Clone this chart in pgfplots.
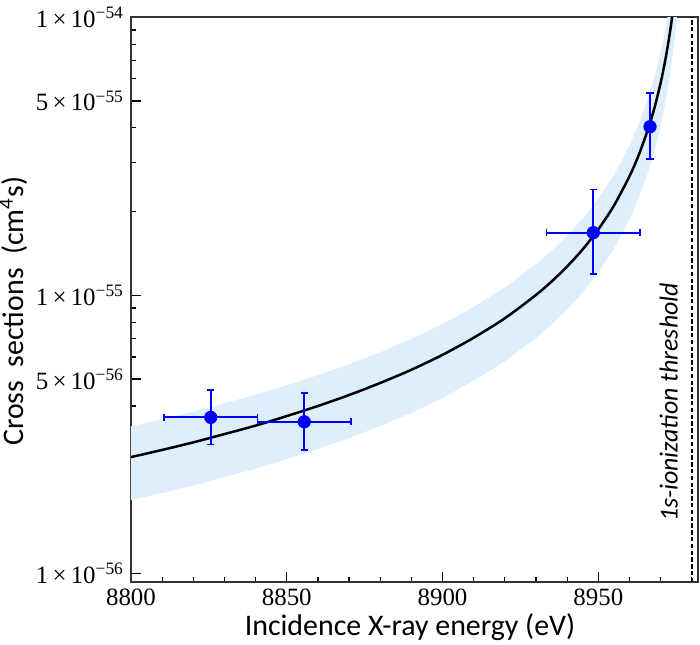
\documentclass[border=0pt]{standalone}
\usepackage{fontspec}
\setmainfont{Carlito}
\newfontfamily\tnr{Liberation Serif}
\usepackage{pgfplots}
\pgfplotsset{compat=1.18}
\usepackage{pgfplotstable}

\definecolor{band}{RGB}{222,238,252}
\definecolor{pblue}{RGB}{0,0,255}

\pgfplotstableread{
x y xm xp ym yp
8825.6 3.64e-56 15 15 0.73e-56 0.92e-56
8855.6 3.51e-56 15 15 0.73e-56 0.93e-56
8948.4 1.68e-55 15 15 0.49e-55 0.72e-55
8966.6 4.04e-55 0 0 0.95e-55 1.29e-55
}\pts

\newcommand{\tl}[2]{#1\,×\,10\textsuperscript{−#2}}

\begin{document}
\begin{tikzpicture}
\useasboundingbox (-65.5bp,-31.5bp) rectangle (284.5bp,291bp);
\begin{axis}[
  at={(0,0)}, anchor=south west,
  scale only axis, width=283.5bp, height=282.5bp,
  ymode=log,
  xmin=8800, xmax=8982,
  ymin=9.3e-57, ymax=1e-54,
  xtick={8800,8850,8900,8950},
  xticklabels={8800,8850,8900,8950},
  minor xtick={8810,8820,8830,8840,8860,8870,8880,8890,8910,8920,8930,8940,8960,8970,8980},
  ytick={1e-56,5e-56,1e-55,5e-55,1e-54},
  yticklabels={\tl{1}{56},\tl{5}{56},\tl{1}{55},\tl{5}{55},\tl{1}{54}},
  minor ytick={2e-56,3e-56,4e-56,6e-56,7e-56,8e-56,9e-56,2e-55,3e-55,4e-55,6e-55,7e-55,8e-55,9e-55},
  xtick pos=left, ytick pos=left,
  tick align=inside,
  major tick length=5bp, minor tick length=2.5bp,
  tick style={line width=0.6bp, black},
  axis line style={line width=0.8bp, black!80},
  xticklabel style={font=\tnr\fontsize{12.5}{12.5}\selectfont},
  yticklabel style={font=\tnr\fontsize{12.5}{12.5}\selectfont},
  xlabel={Incidence X-ray energy (eV)},
  ylabel={Cross\hspace{0.45em}sections\hspace{0.45em}(cm\textsuperscript{4}s)},
  every axis x label/.style={at={(axis description cs:0.492,-0.0938)}, anchor=base, font=\fontsize{15}{15}\selectfont},
  every axis y label/.style={at={(axis description cs:-0.190,0.4796)}, anchor=base, rotate=90, font=\fontsize{15}{15}\selectfont},
]
% uncertainty band
\addplot[fill=band, draw=none] coordinates {
(8800,3.38e-56) (8810,3.59e-56) (8820,3.82e-56) (8830,4.09e-56) (8840,4.39e-56)
(8850,4.75e-56) (8860,5.16e-56) (8870,5.65e-56) (8880,6.24e-56) (8890,6.97e-56)
(8900,7.88e-56) (8910,9.08e-56) (8920,1.067e-55) (8930,1.294e-55) (8935,1.446e-55)
(8940,1.638e-55) (8945,1.889e-55) (8950,2.228e-55) (8955,2.709e-55) (8960,3.457e-55)
(8963,4.128e-55) (8966,5.121e-55) (8968,6.076e-55) (8970,7.48e-55) (8971,8.46e-55)
(8972,9.71e-55) (8972.5,1.049e-54) (8973,1.139e-54)
(8976,1.267e-54) (8975.5,1.081e-54) (8975,9.41e-55) (8974.5,8.33e-55) (8974,7.469e-55)
(8973,6.181e-55) (8972,5.271e-55) (8971,4.592e-55) (8970,4.06e-55) (8968,3.297e-55)
(8966,2.779e-55) (8963,2.24e-55) (8960,1.876e-55) (8955,1.47e-55) (8950,1.209e-55)
(8945,1.0248e-55) (8940,8.89e-56) (8935,7.847e-56) (8930,7.021e-56) (8920,5.789e-56)
(8910,4.928e-56) (8900,4.277e-56) (8890,3.78e-56) (8880,3.388e-56) (8870,3.066e-56)
(8860,2.80e-56) (8850,2.576e-56) (8840,2.38e-56) (8830,2.219e-56) (8820,2.072e-56)
(8810,1.946e-56) (8800,1.834e-56)
} -- cycle;
% threshold
\addplot[black, line width=0.85bp, dash pattern=on 2.2bp off 1.2bp] coordinates {(8980,9.3e-57) (8980,1e-54)};
% theory curve
\addplot[black, line width=1.25bp, smooth] coordinates {
(8800,2.62e-56) (8810,2.78e-56) (8820,2.96e-56) (8830,3.17e-56) (8840,3.40e-56)
(8850,3.68e-56) (8860,4.00e-56) (8870,4.38e-56) (8880,4.84e-56) (8890,5.40e-56)
(8900,6.11e-56) (8910,7.04e-56) (8920,8.27e-56) (8930,1.003e-55) (8935,1.121e-55)
(8940,1.270e-55) (8945,1.464e-55) (8950,1.727e-55) (8955,2.10e-55) (8960,2.68e-55)
(8963,3.20e-55) (8966,3.97e-55) (8968,4.71e-55) (8970,5.80e-55) (8971,6.56e-55)
(8972,7.53e-55) (8973,8.83e-55) (8973.5,9.66e-55) (8974,1.067e-54) (8974.5,1.19e-54)
};
% data
\addplot[only marks, mark=*, mark size=3.1bp, color=pblue,
  error bars/.cd, x dir=both, x explicit, y dir=both, y explicit,
  error bar style={line width=0.9bp, pblue},
  error mark options={rotate=90, mark size=1.8bp, line width=0.9bp, pblue}]
  table[x=x, y=y, x error plus=xp, x error minus=xm, y error plus=yp, y error minus=ym] {\pts};
\node[rotate=90, font=\itshape\fontsize{13}{13}\selectfont] at (axis cs:8972.6,4.12e-56) {1s-ionization threshold};
\end{axis}
\end{tikzpicture}
\end{document}
